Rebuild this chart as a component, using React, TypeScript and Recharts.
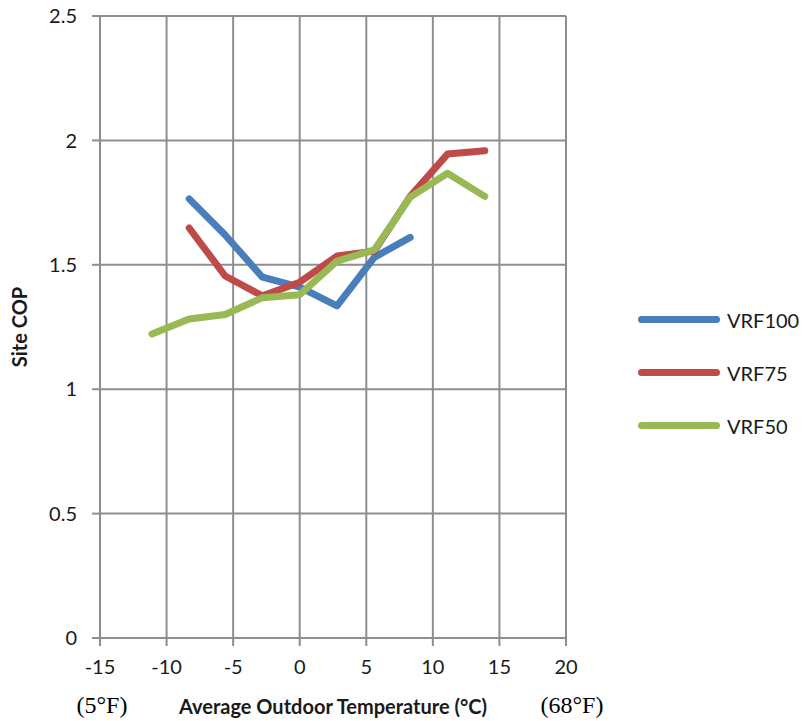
import { LineChart, Line, XAxis, YAxis, CartesianGrid, Legend } from "recharts";

// average outdoor temperature bins (°C), 5°F apart
const temps = [-11.1, -8.3, -5.6, -2.8, 0, 2.8, 5.6, 8.3, 11.1, 13.9];
const vrf100 = [null, 1.765, 1.62, 1.45, 1.41, 1.335, 1.53, 1.61, null, null];
const vrf75 = [null, 1.648, 1.455, 1.375, 1.43, 1.535, 1.555, 1.775, 1.945, 1.958];
const vrf50 = [1.222, 1.282, 1.3, 1.368, 1.38, 1.515, 1.56, 1.772, 1.868, 1.775];

const seriesNames = ["VRF100", "VRF75", "VRF50"];
const xTicks = [-15, -10, -5, 0, 5, 10, 15, 20];
const yTicks = [0, 0.5, 1, 1.5, 2, 2.5];

const data = temps.map((t, i) => ({
  temp: t,
  VRF100: vrf100[i],
  VRF75: vrf75[i],
  VRF50: vrf50[i],
}));

const SANS = "Lato, 'Open Sans', sans-serif";
const SERIF = "'Liberation Serif', 'DejaVu Serif', serif";
const GRID = "#8e8e8e";

function renderLegend(props: any) {
  const payload = [...(props.payload || [])].sort(
    (a: any, b: any) => seriesNames.indexOf(a.value) - seriesNames.indexOf(b.value)
  );
  return (
    <div>
      {payload.map((p: any) => (
        <div
          key={p.value}
          style={{ height: 53, display: "flex", alignItems: "center" }}
        >
          <span
            style={{
              display: "inline-block",
              width: 82,
              height: 7,
              borderRadius: 4,
              background: p.color,
            }}
          />
          <span
            style={{
              marginLeft: 7,
              fontFamily: SANS,
              fontSize: 20,
              color: "#1a1a1a",
            }}
          >
            {p.value}
          </span>
        </div>
      ))}
    </div>
  );
}

function XLabel(props: any) {
  const { x, width } = props.viewBox;
  return (
    <g>
      <text x={x + 2} y={713} textAnchor="middle" fontFamily={SERIF} fontSize={24} fill="#000">
        (5°F)
      </text>
      <text
        x={x + width / 2}
        y={714}
        textAnchor="middle"
        fontFamily={SANS}
        fontWeight="bold"
        fontSize={20}
        fill="#1a1a1a"
      >
        Average Outdoor Temperature (°C)
      </text>
      <text x={x + width + 6} y={713} textAnchor="middle" fontFamily={SERIF} fontSize={24} fill="#000">
        (68°F)
      </text>
    </g>
  );
}

function YLabel() {
  return (
    <text
      x={19}
      y={327}
      transform="rotate(-90 19 327)"
      textAnchor="middle"
      dominantBaseline="central"
      fontFamily={SANS}
      fontWeight="bold"
      fontSize={20}
      fill="#1a1a1a"
    >
      Site COP
    </text>
  );
}

export default function App() {
  const tick = { fontFamily: SANS, fontSize: 20, fill: "#1a1a1a" };
  return (
    <div style={{ position: "absolute", left: 0, top: 0, background: "#fff" }}>
      <LineChart
        width={803}
        height={721}
        data={data}
        margin={{ top: 16, right: 237, left: 0, bottom: 0 }}
      >
        <CartesianGrid stroke={GRID} strokeWidth={2} />
        <XAxis
          dataKey="temp"
          type="number"
          domain={[-15, 20]}
          ticks={xTicks}
          interval={0}
          height={83}
          tick={tick}
          tickSize={8}
          tickMargin={14}
          stroke={GRID}
          strokeWidth={2}
          label={<XLabel />}
        />
        <YAxis
          type="number"
          domain={[0, 2.5]}
          ticks={yTicks}
          interval={0}
          width={100}
          tick={tick}
          tickSize={8}
          tickMargin={15}
          stroke={GRID}
          strokeWidth={2}
          label={<YLabel />}
        />
        <Legend
          layout="vertical"
          align="center"
          verticalAlign="middle"
          content={renderLegend}
          wrapperStyle={{ left: 638, top: 293, width: 165 }}
        />
        <Line dataKey="VRF100" stroke="#4a7ebb" strokeWidth={7} dot={false} strokeLinecap="round" strokeLinejoin="round" isAnimationActive={false} />
        <Line dataKey="VRF75" stroke="#be4b48" strokeWidth={7} dot={false} strokeLinecap="round" strokeLinejoin="round" isAnimationActive={false} />
        <Line dataKey="VRF50" stroke="#98b954" strokeWidth={7} dot={false} strokeLinecap="round" strokeLinejoin="round" isAnimationActive={false} />
      </LineChart>
    </div>
  );
}
